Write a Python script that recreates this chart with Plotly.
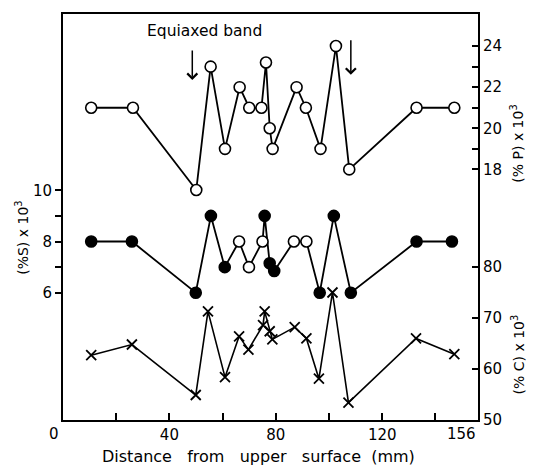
import plotly.graph_objects as go

# ---- data ----
P_x = [10.6, 26.3, 50.1, 55.5, 60.9, 66.4, 70.0, 74.6, 76.3, 77.7, 78.8, 87.8, 91.3, 96.8, 102.6, 107.6, 132.9, 147.1]
P_val = [21, 21, 17, 23, 19, 22, 21, 21, 23.2, 20, 19, 22, 21, 19, 24, 18, 21, 21]

S_x = [10.6, 25.9, 49.9, 55.6, 60.8, 66.2, 69.9, 75.0, 75.8, 77.7, 79.4, 86.8, 91.5, 96.5, 101.8, 108.2, 132.9, 146.2]
S_val = [8, 8, 6, 9, 7, 8, 7, 8, 9, 7.15, 6.85, 8, 8, 6, 9, 6, 8, 8]
S_filled = [1, 1, 1, 1, 1, 0, 0, 0, 1, 1, 1, 0, 0, 1, 1, 1, 1, 1]

C_x = [10.6, 25.9, 49.9, 54.5, 60.9, 66.2, 69.7, 75.2, 75.8, 77.7, 78.7, 87.1, 91.5, 96.2, 101.3, 107.3, 132.7, 147.1]
C_val = [62.7, 64.8, 54.9, 71.3, 58.4, 66.4, 63.8, 68.6, 71.3, 67.4, 65.8, 68.2, 66, 58.1, 75, 53.4, 66, 62.9]

x_tickvals = [40, 80, 120]
x_ticktext = ["40", "80", "120"]
x_edge_labels = [(0, "0", "center", -9), (156, "156", "right", 0)]  # drawn as annotations
x_minor = [20, 60, 100, 140]
S_ticks = [6, 8, 10]
S_minor = [7, 9]
P_ticks = [18, 20, 22, 24]
P_minor = [19, 21, 23]
C_ticks = [50, 60, 70, 80]

band_label = "Equiaxed band"
band_label_pos = (53.3, 24.72)          # (x, P-axis units)
arrow_tips = [(48.6, 22.35, -31), (108.2, 22.6, -36)]  # (x, P-axis y, offset px)

FONT = "DejaVu Sans"
BLACK = "black"

fig = go.Figure()

fig.add_trace(go.Scatter(
    x=P_x, y=P_val, yaxis="y2", mode="lines+markers",
    line=dict(color=BLACK, width=1.8),
    marker=dict(symbol="circle", size=11, color="white", line=dict(color=BLACK, width=1.6)),
))

fig.add_trace(go.Scatter(
    x=S_x, y=S_val, yaxis="y", mode="lines+markers",
    line=dict(color=BLACK, width=1.8),
    marker=dict(symbol="circle", size=11,
                color=[BLACK if f else "white" for f in S_filled],
                line=dict(color=BLACK, width=1.6)),
))

fig.add_trace(go.Scatter(
    x=C_x, y=C_val, yaxis="y3", mode="lines+markers",
    line=dict(color=BLACK, width=1.6),
    marker=dict(symbol="x-thin", size=10, color=BLACK, line=dict(color=BLACK, width=1.8)),
))

tickfont = dict(family=FONT, size=15, color=BLACK)

fig.update_layout(
    width=536, height=466,
    margin=dict(l=63, r=58, t=12, b=46),
    plot_bgcolor="white", paper_bgcolor="white",
    showlegend=False,
    font=dict(family=FONT, color=BLACK),
    xaxis=dict(
        range=[0, 156], showline=True, linecolor=BLACK, linewidth=2, mirror=True,
        showgrid=False, zeroline=False,
        tickmode="array", tickvals=x_tickvals, ticktext=x_ticktext,
        ticks="inside", ticklen=7, tickwidth=1.5, tickcolor=BLACK, tickfont=tickfont,
        minor=dict(tickmode="array", tickvals=x_minor, ticks="inside", ticklen=7,
                   tickwidth=1.5, tickcolor=BLACK, showgrid=False),
    ),
    yaxis=dict(
        range=[1.03, 16.885], showline=True, linecolor=BLACK, linewidth=2,
        showgrid=False, zeroline=False,
        tickmode="array", tickvals=S_ticks,
        ticks="outside", ticklen=6, tickwidth=1.5, tickcolor=BLACK, tickfont=tickfont,
        minor=dict(tickmode="array", tickvals=S_minor, ticks="outside", ticklen=6,
                   tickwidth=1.5, tickcolor=BLACK, showgrid=False),
    ),
    yaxis2=dict(
        range=[5.81, 25.56], overlaying="y", side="right", anchor="x",
        showline=True, linecolor=BLACK, linewidth=2,
        showgrid=False, zeroline=False,
        tickmode="array", tickvals=P_ticks,
        ticks="inside", ticklen=6, tickwidth=1.5, tickcolor=BLACK, tickfont=tickfont,
        minor=dict(tickmode="array", tickvals=P_minor, ticks="inside", ticklen=6,
                   tickwidth=1.5, tickcolor=BLACK, showgrid=False),
    ),
    yaxis3=dict(
        range=[50, 129.6], overlaying="y", side="right", anchor="x",
        showline=True, linecolor=BLACK, linewidth=2,
        showgrid=False, zeroline=False,
        tickmode="array", tickvals=C_ticks,
        ticks="inside", ticklen=6, tickwidth=1.5, tickcolor=BLACK, tickfont=tickfont,
    ),
)

ann = []
for xv, txt, anchor, shift in x_edge_labels:
    ann.append(dict(text=txt, xref="x", yref="paper", x=xv, y=0, xanchor=anchor,
                    yanchor="top", xshift=shift, yshift=-3, showarrow=False,
                    font=tickfont))
ann.append(dict(text="Distance   from   upper   surface  (mm)", xref="paper", yref="paper",
                x=0.472, y=-0.0907, xanchor="center", yanchor="middle", showarrow=False,
                font=dict(family=FONT, size=16, color=BLACK)))
ann.append(dict(text="(%S) x 10<sup>3</sup>", xref="paper", yref="paper",
                x=-0.099, y=0.4485, xanchor="center", yanchor="middle", showarrow=False,
                textangle=-90, font=dict(family=FONT, size=14, color=BLACK)))
ann.append(dict(text="(% P) x 10<sup>3</sup>", xref="paper", yref="paper",
                x=1.092, y=0.681, xanchor="center", yanchor="middle", showarrow=False,
                textangle=-90, font=dict(family=FONT, size=14, color=BLACK)))
ann.append(dict(text="(% C) x 10<sup>3</sup>", xref="paper", yref="paper",
                x=1.097, y=0.162, xanchor="center", yanchor="middle", showarrow=False,
                textangle=-90, font=dict(family=FONT, size=14, color=BLACK)))
ann.append(dict(text=band_label, xref="x", yref="y2",
                x=band_label_pos[0], y=band_label_pos[1], xanchor="center", yanchor="middle",
                showarrow=False, font=dict(family=FONT, size=15.5, color=BLACK)))
for ax_x, ax_y, off in arrow_tips:
    ann.append(dict(text="", xref="x", yref="y2", x=ax_x, y=ax_y, ax=0, ay=off,
                    showarrow=True, arrowhead=4, arrowsize=1.3, arrowwidth=1.5,
                    arrowcolor=BLACK))
fig.update_layout(annotations=ann)

fig.write_html("out.html")
